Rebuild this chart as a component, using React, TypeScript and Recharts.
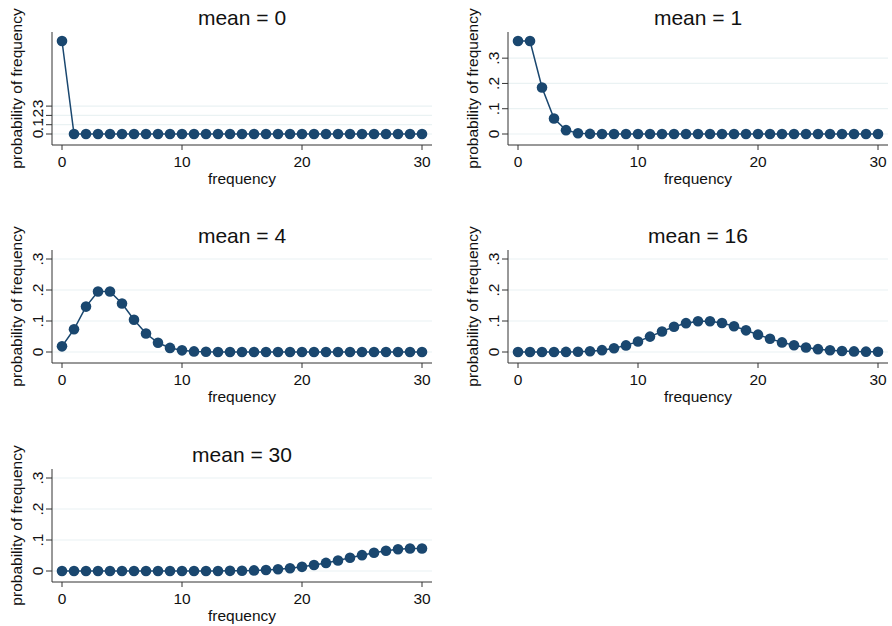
import React from 'react';
import { LineChart, Line, XAxis, YAxis, ReferenceLine } from 'recharts';

// frequency 0..30
const FREQUENCY = [0, 1, 2, 3, 4, 5, 6, 7, 8, 9, 10, 11, 12, 13, 14, 15, 16, 17, 18, 19, 20, 21, 22, 23, 24, 25, 26, 27, 28, 29, 30];

// probability of frequency, one list per mean
const MEAN_0 = [1, 0, 0, 0, 0, 0, 0, 0, 0, 0, 0, 0, 0, 0, 0, 0, 0, 0, 0, 0, 0, 0, 0, 0, 0, 0, 0, 0, 0, 0, 0];
const MEAN_1 = [0.3679, 0.3679, 0.1839, 0.0613, 0.0153, 0.0031, 0.0005, 0.0001, 0, 0, 0, 0, 0, 0, 0, 0, 0, 0, 0, 0, 0, 0, 0, 0, 0, 0, 0, 0, 0, 0, 0];
const MEAN_4 = [0.0183, 0.0733, 0.1465, 0.1954, 0.1954, 0.1563, 0.1042, 0.0595, 0.0298, 0.0132, 0.0053, 0.0019, 0.0006, 0.0002, 0.0001, 0, 0, 0, 0, 0, 0, 0, 0, 0, 0, 0, 0, 0, 0, 0, 0];
const MEAN_16 = [0, 0, 0, 0.0001, 0.0003, 0.001, 0.0026, 0.006, 0.012, 0.0213, 0.0341, 0.0496, 0.0661, 0.0814, 0.093, 0.0992, 0.0992, 0.0934, 0.083, 0.0699, 0.0559, 0.0426, 0.031, 0.0216, 0.0144, 0.0092, 0.0057, 0.0034, 0.0019, 0.0011, 0.0006];
const MEAN_30 = [0, 0, 0, 0, 0, 0, 0, 0, 0, 0, 0, 0, 0.0001, 0.0002, 0.0005, 0.001, 0.0019, 0.0034, 0.0057, 0.0089, 0.0134, 0.0192, 0.0261, 0.0341, 0.0426, 0.0511, 0.059, 0.0655, 0.0702, 0.0726, 0.0726];

const X_TICKS = [0, 10, 20, 30];
const Y_TICKS = [0, 0.1, 0.2, 0.3];

const NAVY = '#1a476f';
const INK = '#111';
const FONT = 'Arial, "Liberation Sans", sans-serif';

const W = 446;
const H = 200;
const AXIS_X = 52;
const PLOT_TOP = 32;
const PLOT_H = 113;
const PLOT_BOTTOM = PLOT_TOP + PLOT_H;
const PLOT_RIGHT = 432;
const MID_X = (AXIS_X + PLOT_RIGHT) / 2;
const MID_Y = PLOT_TOP + PLOT_H / 2;

const fmtY = (v: number) => (v === 0 ? '0' : String(v).replace(/^0/, ''));

const XTick = (props: any) => {
  const { x, payload } = props;
  return (
    <text x={x} y={PLOT_BOTTOM + 22} textAnchor="middle" fontSize={15.5} fontFamily={FONT} fill={INK}>
      {payload.value}
    </text>
  );
};

const YTick = (props: any) => {
  const { y, payload } = props;
  const tx = AXIS_X - 9;
  return (
    <text x={tx} y={y} transform={`rotate(-90 ${tx} ${y})`} textAnchor="middle" fontSize={15.5} fontFamily={FONT} fill={INK}>
      {fmtY(payload.value)}
    </text>
  );
};

interface PanelProps {
  title: string;
  values: number[];
  yMax: number;
  left: number;
  top: number;
}

const Panel: React.FC<PanelProps> = ({ title, values, yMax, left, top }) => {
  const data = FREQUENCY.map((f, i) => ({ f, p: values[i] }));
  return (
    <div style={{ position: 'absolute', left, top, width: W, height: H }}>
      <LineChart width={W} height={H} data={data} margin={{ top: PLOT_TOP, right: W - PLOT_RIGHT, bottom: 0, left: 0 }}>
        <XAxis
          dataKey="f"
          type="number"
          domain={[0, 30]}
          ticks={X_TICKS}
          interval={0}
          padding={{ left: 10, right: 10 }}
          height={H - PLOT_BOTTOM}
          stroke="#333"
          tickSize={5}
          tick={<XTick />}
        />
        <YAxis
          type="number"
          domain={[0, yMax]}
          ticks={Y_TICKS}
          interval={0}
          padding={{ top: 9, bottom: 11 }}
          width={AXIS_X}
          stroke="#333"
          tickSize={6}
          tick={<YTick />}
        />
        {Y_TICKS.map((t) => (
          <ReferenceLine key={t} y={t} stroke="#eaf2f3" strokeWidth={1.2} />
        ))}
        <Line
          type="linear"
          dataKey="p"
          stroke={NAVY}
          strokeWidth={1.5}
          dot={{ r: 5.3, fill: NAVY, stroke: NAVY, strokeWidth: 0 }}
          activeDot={false}
          isAnimationActive={false}
        />
        <text x={MID_X} y={PLOT_TOP - 7} textAnchor="middle" fontSize={21} fontFamily={FONT} fill={INK}>
          {title}
        </text>
        <text x={MID_X} y={PLOT_BOTTOM + 39} textAnchor="middle" fontSize={15.5} fontFamily={FONT} fill={INK}>
          frequency
        </text>
        <text x={22} y={MID_Y} transform={`rotate(-90 22 ${MID_Y})`} textAnchor="middle" fontSize={15.5} fontFamily={FONT} fill={INK}>
          probability of frequency
        </text>
      </LineChart>
    </div>
  );
}

export default function App() {
  return (
    <div style={{ position: 'absolute', left: 0, top: 0, width: 892, height: 626, background: '#fff', fontFamily: FONT }}>
      <Panel title="mean = 0" values={MEAN_0} yMax={1} left={0} top={0} />
      <Panel title="mean = 1" values={MEAN_1} yMax={0.3679} left={456} top={0} />
      <Panel title="mean = 4" values={MEAN_4} yMax={0.3} left={0} top={218} />
      <Panel title="mean = 16" values={MEAN_16} yMax={0.3} left={456} top={218} />
      <Panel title="mean = 30" values={MEAN_30} yMax={0.3} left={0} top={437} />
    </div>
  );
}
